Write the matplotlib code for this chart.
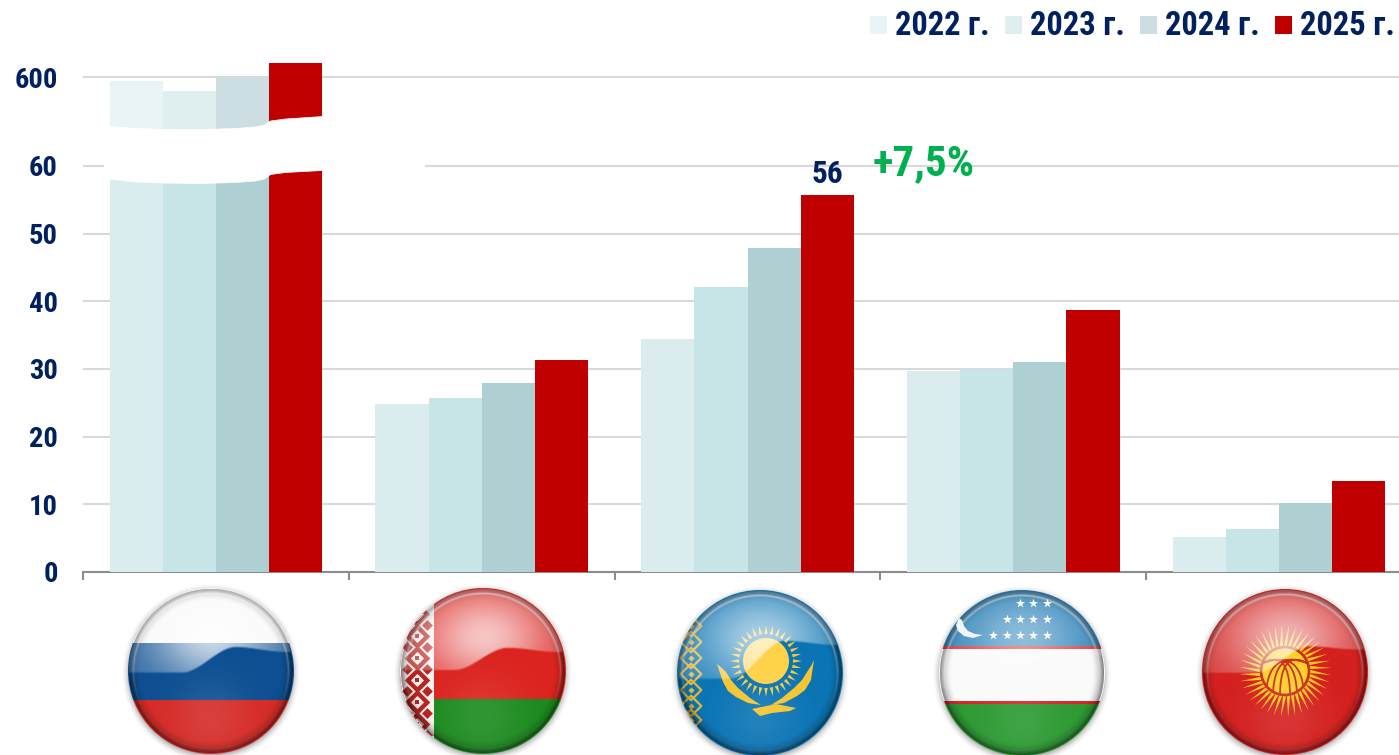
#!/usr/bin/env python3
"""Bar chart by country and year with a broken y axis and glossy round flags."""

import numpy as np
import matplotlib

matplotlib.use("Agg")
import matplotlib.pyplot as plt
from matplotlib import font_manager
from matplotlib.patches import Circle, Polygon, Rectangle

W, H = 1399, 755

years = ["2022 г.", "2023 г.", "2024 г.", "2025 г."]
russia = [576, 515, 603, 688]
belarus = [24.8, 25.7, 27.9, 31.3]
kazakhstan = [34.4, 42.1, 47.9, 55.7]
uzbekistan = [29.7, 30.0, 31.0, 38.7]
kyrgyzstan = [5.2, 6.3, 10.2, 13.4]
y_ticks = [0, 10, 20, 30, 40, 50, 60, 600]
label_value = "56"
growth_label = "+7,5%"

colors = ["#DAECEE", "#C7E4E6", "#AFD0D3", "#C00000"]
colors_upper = ["#E8F4F5", "#DFEFEF", "#CCDEE1", "#C00000"]
NAVY = "#002060"
GREEN = "#00B050"
BREAK_VALUE = 160
K = 13.1 / 540  # compression of the 60..600 stretch

available = {f.name for f in font_manager.fontManager.ttflist}
FONT = ["Roboto Condensed"] if "Roboto Condensed" in available else ["Roboto"]
plt.rcParams["font.family"] = FONT + ["DejaVu Sans"]
plt.rcParams["font.weight"] = "bold"


def squash(v):
    v = np.asarray(v, dtype=float)
    return np.where(v <= 60, v, 60 + (v - 60) * K)


def unsquash(v):
    v = np.asarray(v, dtype=float)
    return np.where(v <= 60, v, 60 + (v - 60) / K)


fig = plt.figure(figsize=(W / 100, H / 100), dpi=100)
ax = fig.add_axes([83 / W, (H - 572) / H, (W - 83) / W, 572 / H])
ax.set_yscale("function", functions=(squash, unsquash))

groups = [russia, belarus, kazakhstan, uzbekistan, kyrgyzstan]
for g, values in enumerate(groups):
    for i, v in enumerate(values):
        x = g + 0.1 + 0.2 * i
        if v > BREAK_VALUE:
            ax.bar(x, BREAK_VALUE, 0.2, align="edge", color=colors[i], zorder=3)
            ax.bar(x, v - BREAK_VALUE, 0.2, bottom=BREAK_VALUE, align="edge",
                   color=colors_upper[i], zorder=3)
        else:
            ax.bar(x, v, 0.2, align="edge", color=colors[i], zorder=3)

ax.set_yticks(y_ticks)
ax.set_yticklabels([str(t) for t in y_ticks], fontsize=20.5, color=NAVY, fontweight="bold")
ax.tick_params(axis="y", length=0, pad=18)
ax.minorticks_off()
ax.yaxis.grid(True, color="#D9D9D9", linewidth=1.5, zorder=1)
ax.set_axisbelow(True)
ax.set_xticks(range(5))
ax.set_xticklabels([])
ax.tick_params(axis="x", length=5.5, width=1.5, color="#8C8C8C")
ax.set_xlim(0, (W - 83) / 265.8)
ax.set_ylim(0, float(unsquash(572 / 6.77)))
for side in ("top", "left", "right"):
    ax.spines[side].set_visible(False)
ax.spines["bottom"].set_color("#8C8C8C")
ax.spines["bottom"].set_linewidth(1.5)
ax.patch.set_alpha(0)

ax.text(2.8, kazakhstan[3] + 1.75, label_value, ha="center", va="baseline",
        fontsize=22.5, color=NAVY, fontweight="bold", zorder=5)

# overlay in pixel coordinates for the break, legend, and flags
px = fig.add_axes([0, 0, 1, 1], zorder=5)
px.axis("off")

top_x = [104, 111, 135, 160, 200, 235, 255, 264, 270, 285, 322, 424]
top_y = [125, 126, 128, 128.8, 129, 128, 126.5, 124.5, 120.5, 118.5, 116, 116]
bot_y = [178, 179, 181.5, 182.5, 183, 182, 180.5, 178.5, 174, 172, 170, 170]
px.fill_between(top_x, top_y, bot_y, color="white", linewidth=0.5, zorder=2)

px.text(873, 175, growth_label, fontsize=31, color=GREEN, fontweight="bold", ha="left", va="baseline")

legend_x = [870, 1005, 1140, 1275]
for x, y_label, c in zip(legend_x, years, colors_upper):
    px.add_patch(Rectangle((x, 16), 17, 18, color=c, linewidth=0))
    px.text(x + 25, 35, y_label, fontsize=23.5, color=NAVY, fontweight="bold", ha="left", va="baseline")


def smooth(t):
    t = np.clip(t, 0, 1)
    return t * t * (3 - 2 * t)


def shading(cx, cy, r, wave_l, wave_m, wave_r, gloss=1.0):
    n = 2 * r + 1
    yy, xx = np.mgrid[-1:1:n * 1j, -1:1:n * 1j]
    rho = np.hypot(xx, yy)
    inside = np.clip((1 - rho) * r, 0, 1)

    wave = wave_l + (wave_m - wave_l) * smooth((xx + 0.35) / 0.65) + (wave_r - wave_m) * smooth((xx - 0.3) / 0.6)
    above = np.clip((wave - yy) * 45, 0, 1)
    lit = 0.14 + 0.68 * np.exp(-((xx - 0.02) ** 2 / 0.55 + (yy + 0.42) ** 2 / 0.3))
    white = above * lit * gloss
    white += 0.1 * np.exp(-(xx ** 2 + (yy - 0.55) ** 2) / 0.22) * (1 - above)
    ring = np.exp(-((rho - 0.94) / 0.014) ** 2)
    white = 1 - (1 - white) * (1 - 0.42 * ring * np.clip(0.45 - yy * 0.9, 0.1, 1))
    dark = 0.55 * np.clip((rho - 0.84) / 0.16, 0, 1) ** 2

    img = np.zeros((n, n, 4))
    img[..., 3] = dark * inside
    px.imshow(img, extent=(cx - r, cx + r, cy + r, cy - r), aspect="auto", zorder=6, interpolation="bilinear")
    img = np.ones((n, n, 4))
    img[..., 3] = np.clip(white, 0, 1) * inside
    px.imshow(img, extent=(cx - r, cx + r, cy + r, cy - r), aspect="auto", zorder=7, interpolation="bilinear")


def shadow(cx, cy, r):
    R = r + 8
    n = 2 * R + 1
    yy, xx = np.mgrid[-R:R:n * 1j, -R:R:n * 1j]
    rho = np.hypot(xx, yy - 2)
    img = np.zeros((n, n, 4))
    img[..., 3] = 0.3 * np.clip((R - rho) / 9, 0, 1) ** 2
    px.imshow(img, extent=(cx - R, cx + R, cy + R, cy - R), aspect="auto", zorder=3, interpolation="bilinear")


def flag_disc(cx, cy, r):
    disc = Circle((cx, cy), r, facecolor="none", edgecolor="none", zorder=4)
    px.add_patch(disc)
    return disc


def band(disc, y0, y1, color, x0=0, x1=W, z=4):
    p = Rectangle((x0, y0), x1 - x0, y1 - y0, color=color, linewidth=0, zorder=z)
    px.add_patch(p)
    p.set_clip_path(disc)


def rays(cx, cy, r0, r1, count, color, half=0.045, twist=0.0):
    for a in np.linspace(0, 2 * np.pi, count, endpoint=False):
        pts = [(cx + r0 * np.cos(a - half * 1.4), cy + r0 * np.sin(a - half * 1.4)),
               (cx + r1 * np.cos(a + twist), cy + r1 * np.sin(a + twist)),
               (cx + r0 * np.cos(a + half * 1.4), cy + r0 * np.sin(a + half * 1.4))]
        px.add_patch(Polygon(pts, color=color, linewidth=0, zorder=5))


def poly(xs, ys, color, z=5):
    p = Polygon(np.column_stack([xs, ys]), color=color, linewidth=0, zorder=z)
    px.add_patch(p)
    return p


# Russia
cx, cy, r = 211, 671, 83
shadow(cx, cy, r)
d = flag_disc(cx, cy, r)
band(d, 580, 643, "#F8F8F8")
band(d, 643, 700, "#0D4F92")
band(d, 700, 760, "#D52B27")
shading(cx, cy, r, 0.03, -0.28, -0.22, 0.95)

# Belarus
cx, cy, r = 483, 671, 83
shadow(cx, cy, r)
d = flag_disc(cx, cy, r)
band(d, 580, 699, "#DB2420")
band(d, 699, 760, "#1C8A1F")
band(d, 580, 760, "#F6F0EE", 400, 434, z=4.2)
for y0 in [614, 636, 658, 680, 702, 724]:
    s = px.scatter([417], [y0], s=170, marker="D", color="#B82420", linewidth=0, zorder=4.5)
    s.set_clip_path(d)
    s = px.scatter([417], [y0], s=45, marker="D", color="#F6F0EE", linewidth=0, zorder=4.6)
    s.set_clip_path(d)
    s = px.scatter([417], [y0], s=8, marker="s", color="#B82420", linewidth=0, zorder=4.7)
    s.set_clip_path(d)
    s = px.scatter([407, 427], [y0 + 11, y0 + 11], s=30, marker="D", color="#B82420", linewidth=0, zorder=4.5)
    s.set_clip_path(d)
shading(cx, cy, r, 0.0, -0.27, -0.22, 0.9)

# Kazakhstan
cx, cy, r = 760, 673, 83
shadow(cx, cy, r)
d = flag_disc(cx, cy, r)
band(d, 580, 760, "#0A74B4")
ornament_y = [626, 642, 658, 674, 690, 706, 720]
s = px.scatter([691] * len(ornament_y), ornament_y, s=110, marker="D", facecolor="none",
               edgecolor="#E3B63C", linewidth=1.6, zorder=4.5)
s.set_clip_path(d)
s = px.scatter([691] * len(ornament_y), ornament_y, s=10, marker="D", color="#E3B63C", linewidth=0, zorder=4.5)
s.set_clip_path(d)
rays(766, 661, 27, 36, 32, "#F6C93C")
px.add_patch(Circle((766, 661), 23, color="#FFD24A", linewidth=0, zorder=5))
poly([717, 722, 726, 731, 738, 750, 761, 748, 736, 728, 723], [664, 668, 672, 680, 688, 698, 705, 703, 697, 691, 682], "#F4C530")
poly([814, 811, 807, 802, 794, 782, 771, 784, 797, 805, 811], [660, 666, 672, 680, 688, 698, 705, 703, 696, 690, 680], "#F4C530")
poly([752, 776, 796, 790, 772, 760], [709, 704, 708, 711, 713, 716], "#F4C530")
shading(cx, cy, r, 0.08, -0.38, -0.33, 0.8)

# Uzbekistan
cx, cy, r = 1022, 673, 83
shadow(cx, cy, r)
d = flag_disc(cx, cy, r)
band(d, 580, 646, "#1B78B4")
band(d, 646, 649, "#D8242A")
band(d, 649, 701, "#FAFAFA")
band(d, 701, 704, "#D8242A")
band(d, 704, 760, "#2C9A32")
star_x = [993, 1007, 1020, 1033, 1047, 1007, 1020, 1033, 1047, 1020, 1033, 1047]
star_y = [635, 635, 635, 635, 635, 619, 619, 619, 619, 603, 603, 603]
px.scatter(star_x, star_y, s=48, marker="*", color="white", linewidth=0, zorder=8)
poly([959, 956, 958, 964, 973, 983, 975, 968, 964, 962], [618, 625, 631, 636, 638, 635, 634, 631, 626, 620], "#F2F6F8", z=8)
shading(cx, cy, r, 0.2, -0.2, -0.2, 0.62)

# Kyrgyzstan
cx, cy, r = 1285, 672, 83
shadow(cx, cy, r)
d = flag_disc(cx, cy, r)
band(d, 580, 760, "#D4201F")
rays(1285, 671, 23, 46, 40, "#FFC81E", half=0.055, twist=0.09)
ring = Circle((1285, 671), 24, facecolor="#FFD02A", edgecolor="#C8301E", linewidth=2, zorder=5.2)
px.add_patch(ring)
t = np.linspace(0, 1, 30)
for s0 in [5, 12, 19]:
    for side in (-1, 1):
        bx = (1 - t) ** 2 * (side * s0) + 2 * t * (1 - t) * (side * s0 * 0.9) + t ** 2 * (-side * 22)
        by = (1 - t) ** 2 * 24 + 2 * t * (1 - t) * (-22) + t ** 2 * (-8)
        line, = px.plot(1285 + bx, 671 + by, color="#C8301E", linewidth=1.3, zorder=5.3)
        line.set_clip_path(ring)
shading(cx, cy, r, 0.02, -0.3, -0.26, 0.8)

px.set_xlim(0, W)
px.set_ylim(H, 0)

fig.savefig("out.png", dpi=100)
